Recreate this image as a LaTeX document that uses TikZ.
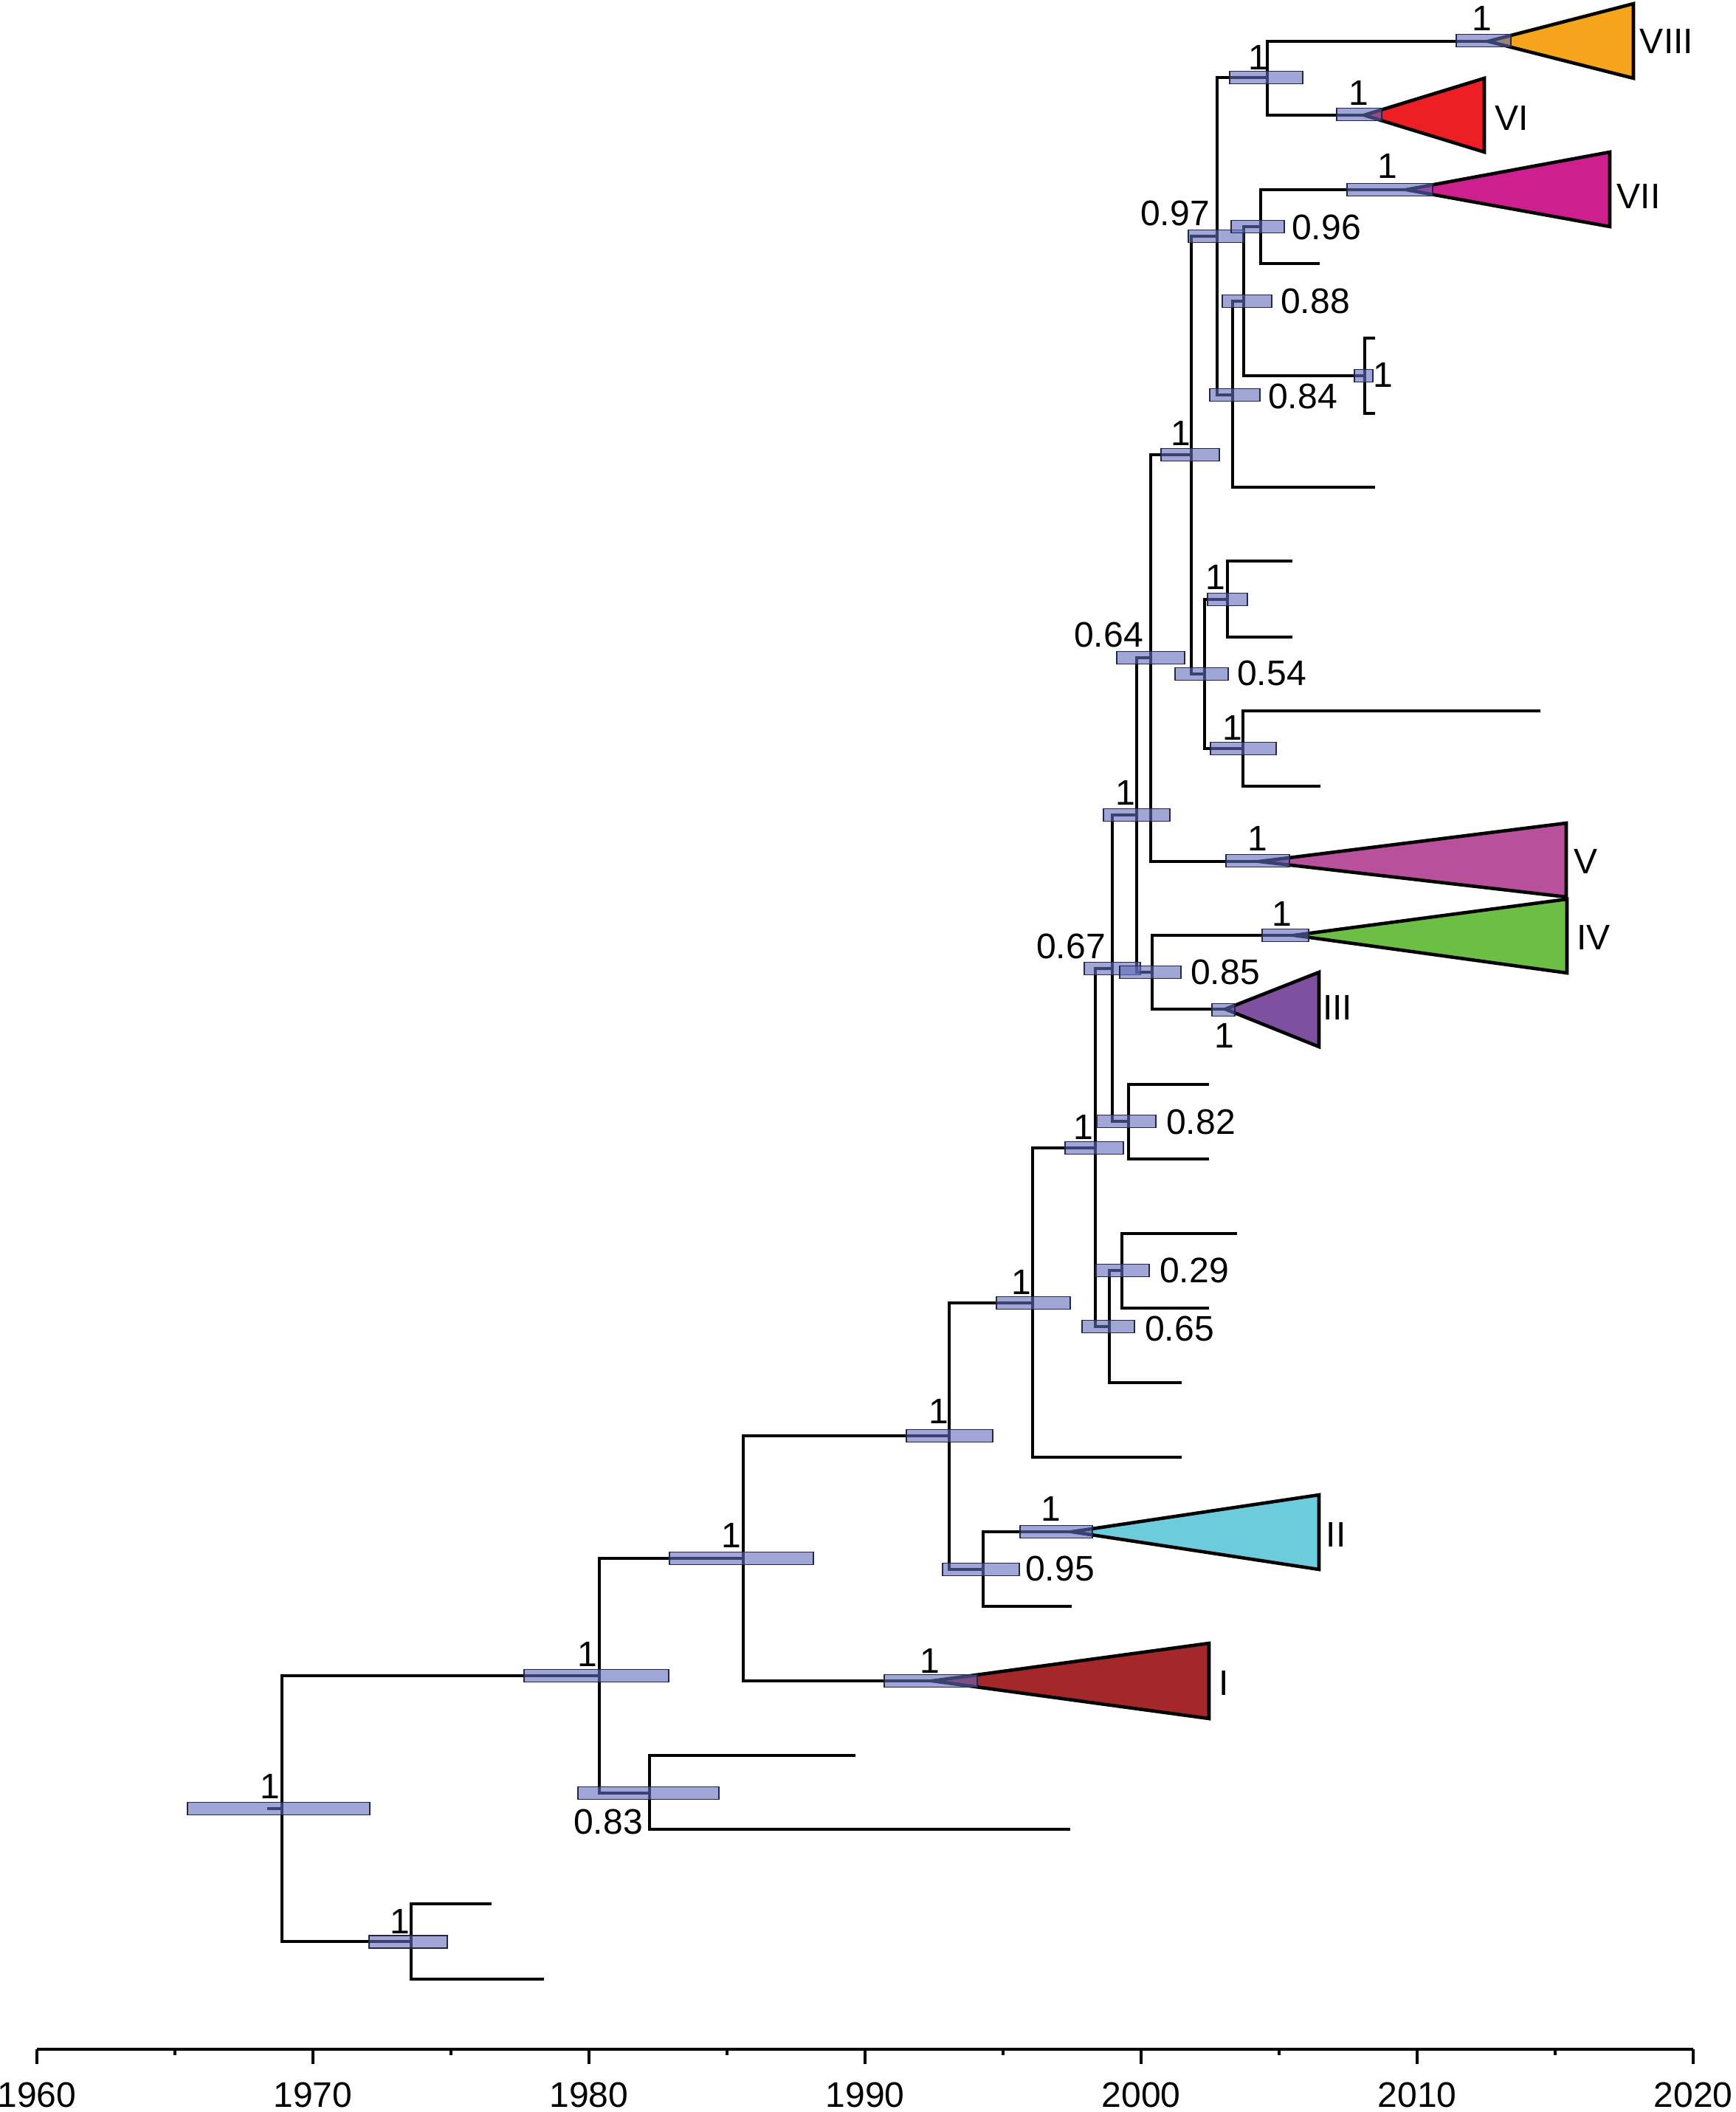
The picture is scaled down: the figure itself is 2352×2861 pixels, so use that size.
\documentclass[tikz,border=0pt]{standalone}
\usepackage{fontspec}
\setmainfont{Liberation Sans}
\definecolor{hpdfill}{RGB}{97,107,187}
\definecolor{hpdline}{RGB}{35,38,70}
\definecolor{cVIII}{RGB}{246,164,28}
\definecolor{cVI}{RGB}{237,30,36}
\definecolor{cVII}{RGB}{205,31,141}
\definecolor{cV}{RGB}{184,80,156}
\definecolor{cIV}{RGB}{108,190,69}
\definecolor{cIII}{RGB}{128,80,160}
\definecolor{cII}{RGB}{108,204,220}
\definecolor{cI}{RGB}{164,40,42}
\begin{document}
\newcommand\lbl{\fontsize{13.66pt}{16pt}\selectfont}
\newcommand\hpdbar[3]{\path[hpd] (#1,#3-8.5) rectangle (#2,#3+8.5);}
\begin{tikzpicture}[x=0.01cm,y=-0.01cm,
  branch/.style={line width=1.15pt,line join=miter},
  clade/.style={draw=black,line width=1.3pt,line join=miter},
  hpd/.style={fill=hpdfill,fill opacity=0.6,draw=hpdline,line width=0.55pt},
  lab/.style={inner sep=0pt,font=\lbl},
  axisline/.style={line width=1.15pt}]
\useasboundingbox (0,0) rectangle (2352,2861);

% ---------- tree nodes ----------
\coordinate (Rs) at (362,2450);
\coordinate (R) at (382,2450);
\coordinate (N73) at (557,2630);
\coordinate (l73a) at (666,2579);
\coordinate (l73b) at (737,2681);
\coordinate (N80) at (812,2270);
\coordinate (N083) at (880,2429);
\coordinate (l83a) at (1159,2378);
\coordinate (l83b) at (1450,2478);
\coordinate (N85) at (1007,2111);
\coordinate (aI) at (1263,2277);
\coordinate (N92) at (1286,1945);
\coordinate (N095) at (1332,2126);
\coordinate (aII) at (1452,2075);
\coordinate (l95) at (1452,2176);
\coordinate (N96) at (1399,1765);
\coordinate (l96) at (1601,1974);
\coordinate (N98) at (1484,1555);
\coordinate (N065) at (1503,1797);
\coordinate (l65) at (1601,1873);
\coordinate (N029) at (1520,1721);
\coordinate (l29a) at (1676,1671);
\coordinate (l29b) at (1638,1772);
\coordinate (N067) at (1507,1312);
\coordinate (N082) at (1529,1519);
\coordinate (l82a) at (1638,1469);
\coordinate (l82b) at (1638,1570);
\coordinate (N99) at (1540,1104);
\coordinate (N085) at (1561,1317);
\coordinate (aIV) at (1753,1267);
\coordinate (aIII) at (1660,1367);
\coordinate (N064) at (1559,891);
\coordinate (aV) at (1706,1167);
\coordinate (N01) at (1614,616);
\coordinate (N054) at (1632,913);
\coordinate (N03a) at (1663,812);
\coordinate (l3a1) at (1751,760);
\coordinate (l3a2) at (1751,863);
\coordinate (N03b) at (1684,1014);
\coordinate (l3b1) at (2087,963);
\coordinate (l3b2) at (1789,1065);
\coordinate (N097) at (1649,320);
\coordinate (NA) at (1717,105);
\coordinate (aVIII) at (2016,56);
\coordinate (aVI) at (1848,156);
\coordinate (N084) at (1670,535);
\coordinate (l84) at (1863,660);
\coordinate (N088) at (1685,408);
\coordinate (N096) at (1708,307);
\coordinate (aVII) at (1905,257);
\coordinate (l96b) at (1788,357);
\coordinate (N1b) at (1849,509);

% ---------- branches ----------
\draw[branch] (Rs) -- (R);
\foreach \p/\c in {R/N80,R/N73,N73/l73a,N73/l73b,N80/N85,N80/N083,
  N083/l83a,N083/l83b,N85/N92,N85/aI,N92/N96,N92/N095,N095/aII,N095/l95,
  N96/N98,N96/l96,N98/N067,N98/N065,N065/N029,N065/l65,N029/l29a,N029/l29b,
  N067/N99,N067/N082,N082/l82a,N082/l82b,N99/N064,N99/N085,N085/aIV,N085/aIII,
  N064/N01,N064/aV,N01/N097,N01/N054,N054/N03a,N054/N03b,N03a/l3a1,N03a/l3a2,
  N03b/l3b1,N03b/l3b2,N097/NA,N097/N084,NA/aVIII,NA/aVI,N084/N088,N084/l84,
  N088/N096,N088/N1b,N096/aVII,N096/l96b}
  \draw[branch] (\p) |- (\c);
% collapsed pair shown as a bracket
\draw[branch] (1863,458) -- (1849,458) -- (1849,560) -- (1863,560);

% ---------- collapsed clades ----------
\filldraw[clade,fill=cVIII] (aVIII) -- (2213,5) -- (2213,106) -- cycle;
\filldraw[clade,fill=cVI] (aVI) -- (2011,106) -- (2011,206) -- cycle;
\filldraw[clade,fill=cVII] (aVII) -- (2181,206) -- (2181,307) -- cycle;
\filldraw[clade,fill=cV] (aV) -- (2122,1115) -- (2122,1215) -- cycle;
\filldraw[clade,fill=cIV] (aIV) -- (2123,1218) -- (2123,1318) -- cycle;
\filldraw[clade,fill=cIII] (aIII) -- (1787,1317) -- (1787,1418) -- cycle;
\filldraw[clade,fill=cII] (aII) -- (1787,2025) -- (1787,2126) -- cycle;
\filldraw[clade,fill=cI] (aI) -- (1638,2226) -- (1638,2328) -- cycle;

% ---------- HPD bars ----------
\hpdbar{254}{501}{2450}
\hpdbar{500}{606}{2630}
\hpdbar{710}{906}{2270}
\hpdbar{783}{974}{2429}
\hpdbar{907}{1102}{2111}
\hpdbar{1198}{1324}{2277}
\hpdbar{1228}{1345}{1945}
\hpdbar{1277}{1381}{2126}
\hpdbar{1382}{1480}{2075}
\hpdbar{1350}{1450}{1765}
\hpdbar{1443}{1522}{1555}
\hpdbar{1466}{1537}{1797}
\hpdbar{1485}{1557}{1721}
\hpdbar{1469}{1545}{1312}
\hpdbar{1486}{1566}{1519}
\hpdbar{1495}{1585}{1104}
\hpdbar{1517}{1600}{1317}
\hpdbar{1710}{1773}{1267}
\hpdbar{1642}{1673}{1368}
\hpdbar{1513}{1605}{891}
\hpdbar{1661}{1747}{1166}
\hpdbar{1573}{1652}{616}
\hpdbar{1592}{1664}{913}
\hpdbar{1636}{1690}{812}
\hpdbar{1640}{1729}{1014}
\hpdbar{1610}{1685}{320}
\hpdbar{1666}{1765}{105}
\hpdbar{1973}{2047}{55}
\hpdbar{1811}{1872}{155}
\hpdbar{1639}{1707}{535}
\hpdbar{1656}{1723}{408}
\hpdbar{1668}{1740}{307}
\hpdbar{1825}{1941}{257}
\hpdbar{1835}{1860}{509}

% ---------- support labels ----------
\node[lab] (tR) at (366,2420) {1};
\node[lab] (t73) at (542,2603) {1};
\node[lab] (t80) at (796,2241) {1};
\node[lab] (t083) at (824,2468) {0.83};
\node[lab] (t85) at (991,2080) {1};
\node[lab] (tI) at (1260,2250) {1};
\node[lab] (t92) at (1272,1912) {1};
\node[lab] (t095) at (1436,2125) {0.95};
\node[lab] (tII) at (1424,2044) {1};
\node[lab] (t96) at (1384,1737) {1};
\node[lab] (t98) at (1468,1527) {1};
\node[lab] (t065) at (1598,1800) {0.65};
\node[lab] (t029) at (1618,1721) {0.29};
\node[lab] (t067) at (1451,1282) {0.67};
\node[lab] (t082) at (1627,1520) {0.82};
\node[lab] (t99) at (1525,1074) {1};
\node[lab] (t085) at (1660,1317) {0.85};
\node[lab] (tIV) at (1737,1238) {1};
\node[lab] (tIII) at (1659,1403) {1};
\node[lab] (t064) at (1502,860) {0.64};
\node[lab] (tV) at (1704,1136) {1};
\node[lab] (t01) at (1600,587) {1};
\node[lab] (t054) at (1723,912) {0.54};
\node[lab] (t03a) at (1647,782) {1};
\node[lab] (t03b) at (1670,986) {1};
\node[lab] (t097) at (1592,289) {0.97};
\node[lab] (tA) at (1705,78) {1};
\node[lab] (tVIII) at (2008,25) {1};
\node[lab] (tVI) at (1841,126) {1};
\node[lab] (t084) at (1765,537) {0.84};
\node[lab] (t088) at (1782,408) {0.88};
\node[lab] (t096) at (1797,308) {0.96};
\node[lab] (tVII) at (1880,225) {1};
\node[lab] (t1b) at (1874,508) {1};

% ---------- clade names ----------
\node[lab] (nVIII) at (2258,56) {VIII};
\node[lab] (nVI) at (2048,160) {VI};
\node[lab] (nVII) at (2220,266) {VII};
\node[lab] (nV) at (2148,1167) {V};
\node[lab] (nIV) at (2159,1270) {IV};
\node[lab] (nIII) at (1812,1365) {III};
\node[lab] (nII) at (1810,2079) {II};
\node[lab] (nI) at (1658,2280) {I};

% ---------- time axis ----------
\coordinate (ax0) at (50,2776);
\coordinate (ax1) at (2294,2776);
\draw[axisline] (ax0) -- (ax1);
\foreach \yr in {1960,1970,...,2020}{
  \pgfmathsetmacro\xx{50+37.4*(\yr-1960)}
  \draw[axisline] (\xx,2776) -- (\xx,2796);
  \node[lab] at (\xx,2838) {\yr};
}
\foreach \yr in {1965,1975,...,2015}{
  \pgfmathsetmacro\xx{50+37.4*(\yr-1960)}
  \draw[axisline] (\xx,2776) -- (\xx,2784);
}
\end{tikzpicture}
\end{document}
